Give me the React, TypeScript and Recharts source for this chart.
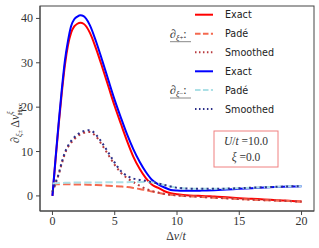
import React from "react";
import { LineChart, Line, XAxis, YAxis, Legend } from "recharts";

// grid of Δv/t values
const xs = [
  0, 0.25, 0.5, 0.75, 1, 1.25, 1.5, 1.75, 2, 2.25, 2.5, 3, 3.5, 4, 4.5, 5, 5.5, 6, 6.5, 7, 7.5, 8, 8.5, 9,
  9.5, 10, 10.5, 11, 11.5, 12, 13, 14, 15, 16, 17, 18, 19, 20,
];

// ∂ξ+ curves (red)
const exactPlus = [
  0, 8.2, 16, 23.2, 29.5, 34, 36.8, 38.2, 38.8, 39.0, 38.8, 36.8, 33.2, 29, 24.6, 20.2, 16.2, 12.3, 8.8, 6.1,
  4.0, 2.5, 1.8, 1.05, 0.6, 0.35, 0.2, 0.1, 0.05, 0.0, -0.15, -0.3, -0.5, -0.65, -0.8, -0.95, -1.1, -1.25,
];
const padePlus = [
  2.6, 2.6, 2.62, 2.62, 2.62, 2.62, 2.6, 2.6, 2.58, 2.56, 2.55, 2.5, 2.45, 2.38, 2.3, 2.22, 2.12, 2.0, 1.8,
  1.55, 1.3, 0.98, 0.72, 0.45, 0.25, 0.1, 0.0, -0.1, -0.15, -0.25, -0.4, -0.55, -0.7, -0.85, -0.95, -1.05,
  -1.15, -1.3,
];
const smoothPlus = [
  0.8, 2.8, 4.8, 7.3, 9.5, 11.0, 12.0, 12.8, 13.4, 13.9, 14.2, 14.4, 13.4, 11.4, 9.2, 7.0, 5.2, 4.0, 3.1, 2.3,
  1.6, 1.1, 0.75, 0.45, 0.25, 0.1, 0.0, -0.1, -0.15, -0.25, -0.4, -0.55, -0.7, -0.85, -0.95, -1.05, -1.15,
  -1.3,
];

// ∂ξ- curves (blue)
const exactMinus = [
  0, 8.5, 16.5, 24, 30.5, 35, 38.3, 39.8, 40.4, 40.7, 40.5, 38.5, 34.8, 30.5, 26, 21.6, 17.6, 13.8, 10.5, 7.7,
  5.4, 3.6, 2.6, 1.9, 1.35, 1.2, 1.15, 1.15, 1.15, 1.2, 1.3, 1.45, 1.6, 1.75, 1.9, 2.0, 2.1, 2.2,
];
const padeMinus = [
  2.8, 2.85, 2.9, 2.92, 2.95, 2.97, 2.98, 3.0, 3.0, 3.0, 3.02, 3.03, 3.04, 3.05, 3.06, 3.07, 3.08, 3.1, 3.12,
  3.15, 3.15, 3.05, 2.8, 2.45, 2.1, 1.85, 1.7, 1.65, 1.6, 1.6, 1.6, 1.65, 1.75, 1.85, 1.95, 2.05, 2.15, 2.2,
];
const smoothMinus = [
  1.0, 3.0, 5.0, 7.6, 9.8, 11.3, 12.4, 13.2, 13.8, 14.3, 14.6, 14.8, 13.8, 11.9, 9.7, 7.5, 5.6, 4.5, 3.9, 3.6,
  3.4, 3.1, 2.8, 2.45, 2.1, 1.85, 1.7, 1.65, 1.6, 1.6, 1.6, 1.65, 1.75, 1.85, 1.95, 2.05, 2.15, 2.2,
];

const xTicks = [0, 5, 10, 15, 20];
const yTicks = [0, 10, 20, 30, 40];

const data = xs.map((x, i) => ({
  x,
  exactPlus: exactPlus[i],
  padePlus: padePlus[i],
  smoothPlus: smoothPlus[i],
  exactMinus: exactMinus[i],
  padeMinus: padeMinus[i],
  smoothMinus: smoothMinus[i],
}));

const SERIES = [
  { key: "exactPlus", name: "Exact", color: "#ff0000", dash: undefined as string | undefined },
  { key: "padePlus", name: "Padé", color: "#f4694f", dash: "7.4 3.2" },
  { key: "smoothPlus", name: "Smoothed", color: "#b83a3e", dash: "2 3.3" },
  { key: "exactMinus", name: "Exact", color: "#0000ff", dash: undefined },
  { key: "padeMinus", name: "Padé", color: "#ace0e6", dash: "7.4 3.2" },
  { key: "smoothMinus", name: "Smoothed", color: "#2c2f88", dash: "2 3.3" },
];

const W = 319;
const H = 248;
const PLOT = { left: 40, top: 6, right: 314, bottom: 211 };
const serif = "Liberation Serif";
const sans = "DejaVu Sans";

const XTick = ({ x, y, payload }: any) => (
  <text x={x} y={y + 8} textAnchor="middle" fontFamily={serif} fontSize={12} fill="#333">
    {payload.value}
  </text>
);

const YTick = ({ x, y, payload }: any) => (
  <text x={x - 1} y={y + 4} textAnchor="end" fontFamily={serif} fontSize={12} fill="#333">
    {payload.value}
  </text>
);

const GroupLabel = ({ y, sign }: { y: number; sign: string }) => (
  <g>
    <text x={170} y={y + 4} fontFamily={serif} fontSize={12} fill="#333">
      <tspan fontStyle="italic">∂</tspan>
      <tspan fontSize={8} dy={3} fontStyle="italic">ξ</tspan>
      <tspan fontSize={7} dy={-1}>{sign}</tspan>
      <tspan dy={-2}>:</tspan>
    </text>
    <line x1={170} x2={191} y1={y + 8} y2={y + 8} stroke="#888" strokeWidth={1} />
  </g>
);

const Overlay = () => {
  const rowY = [14.7, 33.7, 52.3, 71.3, 90, 109];
  return (
    <svg width={W} height={H} style={{ position: "absolute", left: 0, top: 0, pointerEvents: "none" }}>
      <rect
        x={PLOT.left}
        y={PLOT.top}
        width={PLOT.right - PLOT.left}
        height={PLOT.bottom - PLOT.top}
        fill="none"
        stroke="#444"
        strokeWidth={1}
      />
      {SERIES.map((s, i) => (
        <g key={s.key}>
          <line
            x1={195}
            x2={213}
            y1={rowY[i]}
            y2={rowY[i]}
            stroke={s.color}
            strokeWidth={2}
            strokeDasharray={s.dash ? s.dash.split(" ").map((v) => Number(v) * 0.75).join(" ") : undefined}
          />
          <text x={225} y={rowY[i] + 3.6} fontFamily={sans} fontSize={9.6} fill="#222">
            {s.name}
          </text>
        </g>
      ))}
      <GroupLabel y={33.7} sign="+" />
      <GroupLabel y={90} sign="−" />
      <rect x={214} y={131} width={64} height={36} fill="#fff" stroke="#f08080" strokeWidth={1} />
      <text x={246} y={144.5} textAnchor="middle" fontFamily={serif} fontSize={11.5} fill="#333">
        <tspan fontStyle="italic">U</tspan>/<tspan fontStyle="italic">t</tspan> =10.0
      </text>
      <text x={246} y={161} textAnchor="middle" fontFamily={serif} fontSize={11.5} fill="#333">
        <tspan fontStyle="italic">ξ</tspan> =0.0
      </text>
      <text x={176} y={240} textAnchor="middle" fontFamily={serif} fontSize={12} fill="#333">
        Δ<tspan fontStyle="italic">v</tspan>/<tspan fontStyle="italic">t</tspan>
      </text>
      <text transform="translate(19,143) rotate(-90)" x={0} y={0} fontFamily={serif} fontSize={12} fill="#333">
        <tspan fontStyle="italic">∂</tspan>
        <tspan fontSize={8} dy={3} fontStyle="italic">ξ</tspan>
        <tspan fontSize={7}>±</tspan>
        <tspan dy={-3} dx={2}>Δ</tspan>
        <tspan fontStyle="italic">v</tspan>
        <tspan fontSize={8} dy={-6} fontStyle="italic">ξ</tspan>
        <tspan fontSize={7} dy={9} dx={-4} fontWeight="bold">Hxc</tspan>
      </text>
    </svg>
  );
};

export default function App() {
  return (
    <div style={{ position: "absolute", left: 0, top: 0, width: W, height: H, background: "#fff" }}>
      <LineChart width={W} height={H} data={data} margin={{ top: 6, right: 5, left: 0, bottom: 0 }}>
        <XAxis
          dataKey="x"
          type="number"
          domain={[-1, 21]}
          ticks={xTicks}
          tickSize={4}
          height={37}
          stroke="#444"
          tick={<XTick />}
          allowDataOverflow
        />
        <YAxis
          type="number"
          domain={[-3.4, 42.8]}
          ticks={yTicks}
          tickSize={4}
          width={40}
          stroke="#444"
          tick={<YTick />}
          allowDataOverflow
        />
        <Legend
          verticalAlign="middle"
          align="center"
          layout="horizontal"
          wrapperStyle={{ left: 0, top: 0, width: W, height: H, pointerEvents: "none" }}
          content={() => <Overlay />}
        />
        {SERIES.map((s) => (
          <Line
            key={s.key}
            dataKey={s.key}
            name={s.name}
            type="monotone"
            stroke={s.color}
            strokeWidth={2}
            strokeDasharray={s.dash}
            dot={false}
            activeDot={false}
            isAnimationActive={false}
          />
        ))}
      </LineChart>
    </div>
  );
}
